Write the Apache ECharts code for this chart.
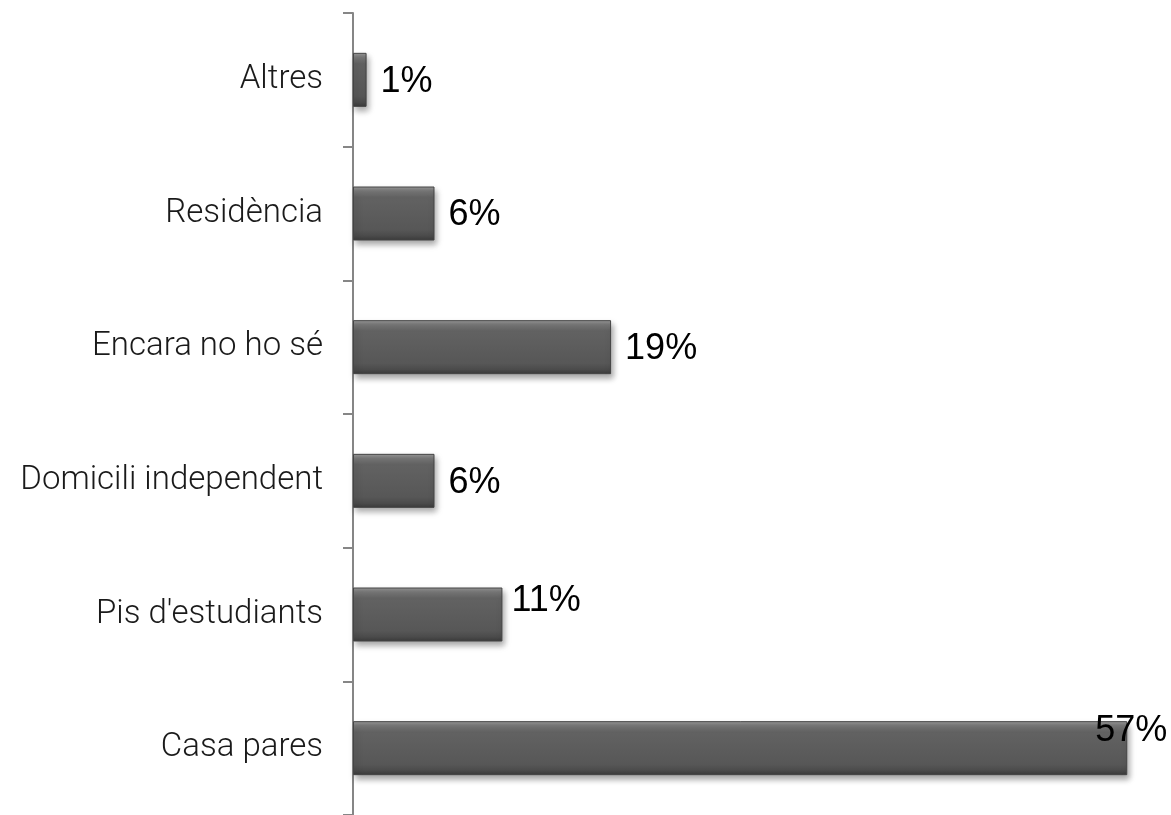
<!DOCTYPE html>
<html>
<head>
<meta charset="utf-8">
<script src="https://cdn.jsdelivr.net/npm/echarts@6/dist/echarts.min.js"></script>
<style>html,body{margin:0;padding:0;background:#fff}#c{width:1171px;height:815px}</style>
</head>
<body>
<div id="c"></div>
<script>
var categories = ["Casa pares", "Pis d'estudiants", "Domicili independent", "Encara no ho sé", "Residència", "Altres"];
var values = [57, 11, 6, 19, 6, 1];
var labelOffsets = [[-46, -17], [-5, -13], [0, 2], [0, 2], [0, 2], [0, 2]];

var chart = echarts.init(document.getElementById('c'), null, {renderer: 'canvas'});
var barColor = {
  type: 'linear', x: 0, y: 0, x2: 0, y2: 1,
  colorStops: [
    {offset: 0, color: '#9a9a9a'},
    {offset: 0.08, color: '#7a7a7a'},
    {offset: 0.2, color: '#626262'},
    {offset: 0.8, color: '#575757'},
    {offset: 0.92, color: '#4a4a4a'},
    {offset: 1, color: '#3a3a3a'}
  ]
};
var data = values.map(function (v, i) {
  return {value: v, label: {offset: labelOffsets[i]}};
});
chart.setOption({
  animation: false,
  grid: {left: 353, top: 13, height: 812, width: 815, containLabel: false},
  xAxis: {
    type: 'value', min: 0, max: 60,
    show: false
  },
  yAxis: {
    type: 'category',
    data: categories,
    axisLine: {show: true, lineStyle: {color: '#868686', width: 2}},
    axisTick: {show: true, length: 10, lineStyle: {color: '#868686', width: 2}},
    axisLabel: {
      margin: 30,
      color: '#1a1a1a',
      fontFamily: 'Roboto',
      fontWeight: 300,
      fontSize: 33
    },
    splitLine: {show: false}
  },
  series: [{
    type: 'bar',
    data: data,
    barWidth: 54,
    itemStyle: {
      color: barColor,
      borderColor: '#444444',
      borderWidth: 1,
      shadowColor: 'rgba(0,0,0,0.35)',
      shadowBlur: 6,
      shadowOffsetX: 2,
      shadowOffsetY: 4
    },
    label: {
      show: true,
      position: 'right',
      distance: 14,
      formatter: '{c}%',
      color: '#000',
      fontFamily: 'Liberation Sans',
      fontSize: 36
    }
  }]
});
</script>
</body>
</html>
